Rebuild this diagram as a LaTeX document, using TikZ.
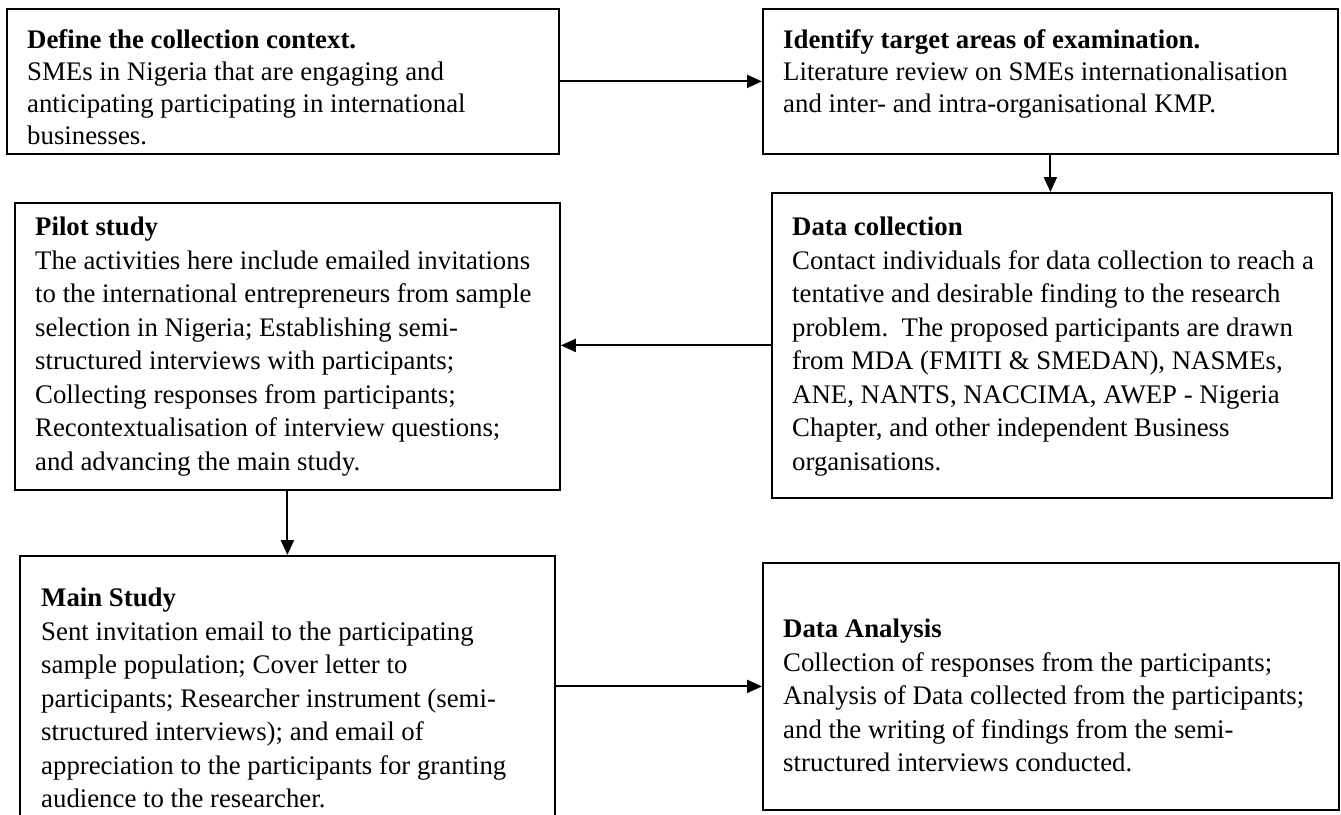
\documentclass[tikz,border=0pt]{standalone}
\usepackage{fontspec}
\setmainfont{Liberation Serif}
\usetikzlibrary{arrows.meta}

\begin{document}
\begin{tikzpicture}[x=1pt,y=-1pt,
  stagebox/.style={draw=black,line width=1.8pt,rectangle,inner sep=0pt,anchor=north west},
  stagetext/.style={anchor=north west,inner sep=0pt,align=left,
    font=\fontsize{26.8}{33.5}\selectfont},
  tighttext/.style={stagetext,font=\fontsize{26.8}{32.2}\selectfont},
  flow/.style={line width=2pt,-{Triangle[length=15pt,width=13pt]}}]
\useasboundingbox (0,0) rectangle (1341,814);

% stage frames
\node[stagebox,minimum width=552pt,minimum height=145pt] (b1) at (6,8) {};
\node[stagebox,minimum width=575pt,minimum height=145pt] (b2) at (762,8) {};
\node[stagebox,minimum width=560pt,minimum height=305pt] (b3) at (771,192) {};
\node[stagebox,minimum width=545pt,minimum height=287pt] (b4) at (14,202) {};
\node[stagebox,minimum width=535pt,minimum height=290pt] (b5) at (19,555) {};
\node[stagebox,minimum width=576pt,minimum height=247pt] (b6) at (762,562) {};

% stage texts
\node[tighttext] (t1) at (27,29) {\textbf{Define the collection context.}\\
SMEs in Nigeria that are engaging and\\
anticipating participating in international\\
businesses.};

\node[tighttext] (t2) at (783,29) {\textbf{Identify target areas of examination.}\\
Literature review on SMEs internationalisation\\
and inter- and intra-organisational KMP.};

\node[stagetext] (t3) at (792,217) {\textbf{Data collection}\\
Contact individuals for data collection to reach a\\
tentative and desirable finding to the research\\
problem.\ \ The proposed participants are drawn\\
from MDA (FMITI \& SMEDAN), NASMEs,\\
ANE, NANTS, NACCIMA, AWEP - Nigeria\\
Chapter, and other independent Business\\
organisations.};

\node[stagetext] (t4) at (35,217) {\textbf{Pilot study}\\
The activities here include emailed invitations\\
to the international entrepreneurs from sample\\
selection in Nigeria; Establishing semi-\\
structured interviews with participants;\\
Collecting responses from participants;\\
Recontextualisation of interview questions;\\
and advancing the main study.};

\node[stagetext] (t5) at (41,588) {\textbf{Main Study}\\
Sent invitation email to the participating\\
sample population; Cover letter to\\
participants; Researcher instrument (semi-\\
structured interviews); and email of\\
appreciation to the participants for granting\\
audience to the researcher.};

\node[stagetext] (t6) at (783,619) {\textbf{Data Analysis}\\
Collection of responses from the participants;\\
Analysis of Data collected from the participants;\\
and the writing of findings from the semi-\\
structured interviews conducted.};

% flow between stages
\draw[flow] (b1.east) -- (b2.west);
\draw[flow] (b2.south) -- (b2.south |- b3.north);
\draw[flow] (b3.west) -- (b4.east |- b3.west);
\draw[flow] (b4.south) -- (b4.south |- b5.north);
\draw[flow] (b5.east |- b6.west) -- (b6.west);
\end{tikzpicture}
\end{document}
